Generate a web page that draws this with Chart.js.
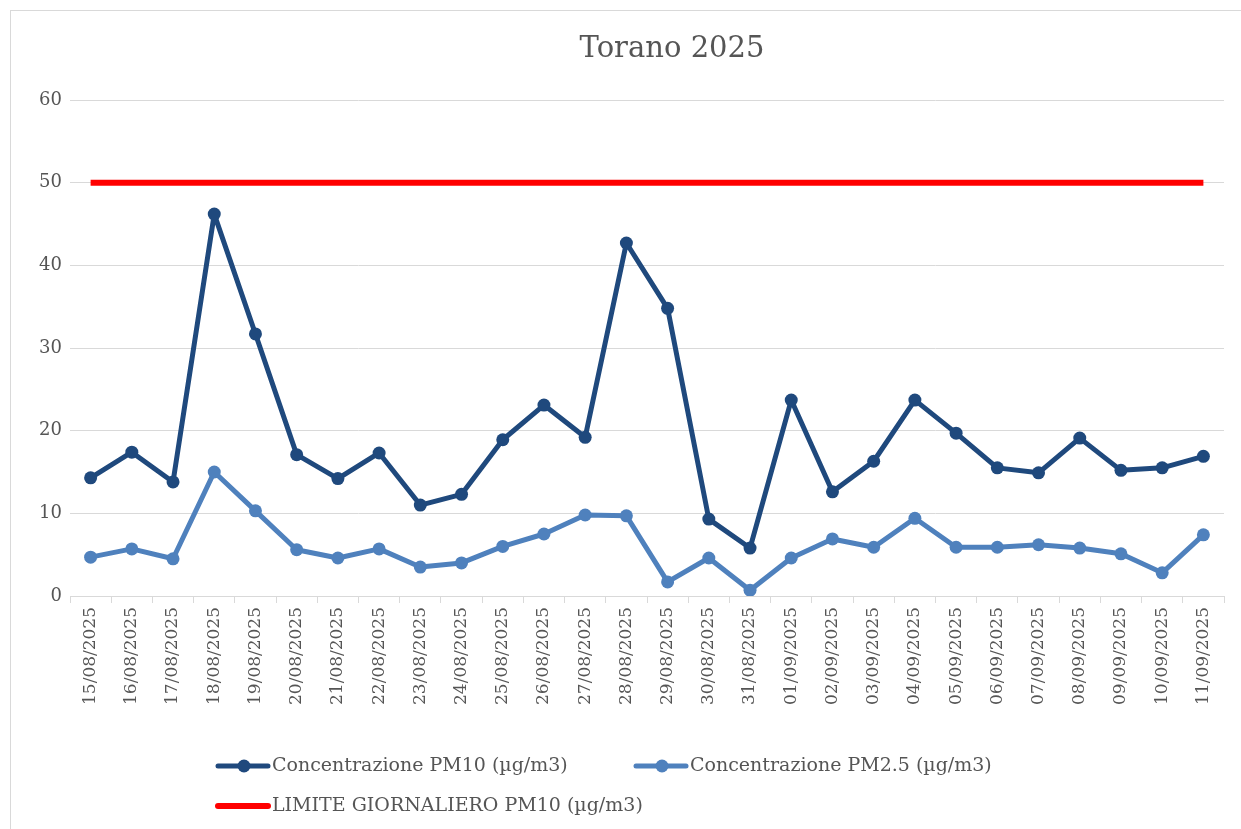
<!DOCTYPE html>
<html>
<head>
<meta charset="utf-8">
<script src="https://cdn.jsdelivr.net/npm/chart.js@4"></script>
<style>
  html, body { margin: 0; padding: 0; background: #ffffff; }
  #wrap { position: relative; width: 1241px; height: 829px; overflow: hidden; }
  #frame { position: absolute; left: 10px; top: 10px; width: 1300px; height: 900px; border: 1px solid #d9d9d9; box-sizing: border-box; }
  canvas { position: absolute; left: 0; top: 0; }
</style>
</head>
<body>
<div id="wrap">
  <div id="frame"></div>
  <canvas id="c" width="1241" height="829"></canvas>
</div>
<script>
const title = "Torano 2025";
const categories = ["15/08/2025","16/08/2025","17/08/2025","18/08/2025","19/08/2025","20/08/2025","21/08/2025","22/08/2025","23/08/2025","24/08/2025","25/08/2025","26/08/2025","27/08/2025","28/08/2025","29/08/2025","30/08/2025","31/08/2025","01/09/2025","02/09/2025","03/09/2025","04/09/2025","05/09/2025","06/09/2025","07/09/2025","08/09/2025","09/09/2025","10/09/2025","11/09/2025"];
const pm10Label = "Concentrazione PM10 (µg/m3)";
const pm25Label = "Concentrazione PM2.5 (µg/m3)";
const limitLabel = "LIMITE GIORNALIERO PM10 (µg/m3)";
const pm10 = [14.3,17.4,13.8,46.2,31.7,17.1,14.2,17.3,11.0,12.3,18.9,23.1,19.2,42.7,34.8,9.3,5.8,23.7,12.6,16.3,23.7,19.7,15.5,14.9,19.1,15.2,15.5,16.9];
const pm25 = [4.7,5.7,4.5,15.0,10.3,5.6,4.6,5.7,3.5,4.0,6.0,7.5,9.8,9.7,1.7,4.6,0.7,4.6,6.9,5.9,9.4,5.9,5.9,6.2,5.8,5.1,2.8,7.4];
const limitValue = 50;
const limit = categories.map(() => limitValue);
const yTicks = [0,10,20,30,40,50,60];

const FONT = "'DejaVu Serif', serif";
const TXT = "#555555";
const GRID = "#d9d9d9";

const titlePlugin = {
  id: 'customTitle',
  afterDraw(chart) {
    const ctx = chart.ctx;
    ctx.save();
    ctx.fillStyle = TXT;
    ctx.font = "29px " + FONT;
    ctx.textAlign = 'center';
    ctx.textBaseline = 'middle';
    ctx.fillText(title, 672, 49);
    ctx.restore();
  }
};

const legendPlugin = {
  id: 'customLegend',
  afterDraw(chart) {
    const ctx = chart.ctx;
    const items = [
      { ds: 1, x: 218, y: 766 },
      { ds: 2, x: 636, y: 766 },
      { ds: 0, x: 218, y: 806 }
    ];
    ctx.save();
    items.forEach(it => {
      const d = chart.data.datasets[it.ds];
      ctx.strokeStyle = d.borderColor;
      ctx.lineWidth = d.borderWidth;
      ctx.lineCap = 'round';
      ctx.beginPath();
      ctx.moveTo(it.x, it.y);
      ctx.lineTo(it.x + 50, it.y);
      ctx.stroke();
      if (d.pointRadius > 0) {
        ctx.fillStyle = d.borderColor;
        ctx.beginPath();
        ctx.arc(it.x + 26, it.y, d.pointRadius, 0, Math.PI * 2);
        ctx.fill();
      }
      ctx.fillStyle = TXT;
      ctx.font = "19px " + FONT;
      ctx.textBaseline = 'middle';
      ctx.textAlign = 'left';
      ctx.fillText(d.label, it.x + 54, it.y);
    });
    ctx.restore();
  }
};

new Chart(document.getElementById('c'), {
  type: 'line',
  data: {
    labels: categories,
    datasets: [
      { label: limitLabel, data: limit, borderColor: '#ff0000', backgroundColor: '#ff0000', borderWidth: 6, pointRadius: 0, pointHoverRadius: 0, order: 3 },
      { label: pm10Label, data: pm10, borderColor: '#1f497d', backgroundColor: '#1f497d', borderWidth: 5, borderJoinStyle: 'round', pointRadius: 6.5, pointBackgroundColor: '#1f497d', pointBorderWidth: 0, order: 1 },
      { label: pm25Label, data: pm25, borderColor: '#4f81bd', backgroundColor: '#4f81bd', borderWidth: 5, borderJoinStyle: 'round', pointRadius: 6.5, pointBackgroundColor: '#4f81bd', pointBorderWidth: 0, order: 2 }
    ]
  },
  options: {
    responsive: false,
    animation: false,
    devicePixelRatio: 1,
    layout: { padding: { left: 10, right: 17, top: 100, bottom: 0 } },
    plugins: {
      legend: { display: false },
      tooltip: { enabled: false },
      title: { display: false }
    },
    scales: {
      x: {
        offset: true,
        grid: { display: true, drawOnChartArea: false, drawTicks: true, tickLength: 7, color: GRID, offset: true },
        border: { display: true, color: GRID, width: 1 },
        ticks: {
          color: TXT,
          font: { family: FONT, size: 17 },
          minRotation: 90, maxRotation: 90,
          autoSkip: false,
          padding: 4
        },
        afterFit(scale) { scale.height = 233; }
      },
      y: {
        min: 0, max: 60,
        afterBuildTicks(scale) { scale.ticks = yTicks.map(v => ({ value: v })); },
        grid: { color: GRID, lineWidth: 1, drawTicks: false },
        border: { display: false },
        ticks: {
          color: TXT,
          font: { family: FONT, size: 18 },
          padding: 8
        },
        afterFit(scale) { scale.width = 60; }
      }
    }
  },
  plugins: [legendPlugin, titlePlugin]
});
</script>
</body>
</html>
